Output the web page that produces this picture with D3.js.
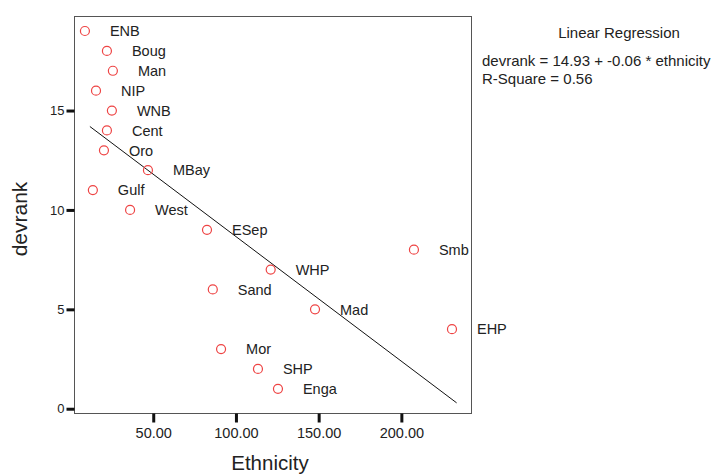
<!DOCTYPE html>
<html>
<head>
<meta charset="utf-8">
<script src="https://cdn.jsdelivr.net/npm/d3@7"></script>
<style>
    body { margin: 0; background: #ffffff; }
    text { font-family: "Liberation Sans", Arial, sans-serif; fill: #222222; }
</style>
</head>
<body>
<script>
// data
var regions = ["ENB", "Boug", "Man", "NIP", "WNB", "Cent", "Oro", "MBay", "Gulf", "West",
               "ESep", "Smb", "WHP", "Sand", "Mad", "EHP", "Mor", "SHP", "Enga"];
var ethnicity = [8.7, 22, 25.6, 15.4, 25, 22, 20.2, 46.8, 13.5, 36,
                 82.5, 207.6, 121, 86, 147.8, 230.6, 91, 113.3, 125.4];
var devrank = [19, 18, 17, 16, 15, 14, 13, 12, 11, 10,
               9, 8, 7, 6, 5, 4, 3, 2, 1];
var xTicks = [50, 100, 150, 200];
var yTicks = [0, 5, 10, 15];

// regression line
var fitIntercept = 14.93;
var fitSlope = -0.0627;
var fitRange = [11.7, 233.4];
var legendLines = ["devrank = 14.93 + -0.06 * ethnicity", "R-Square = 0.56"];

// canvas and plot frame
var canvasX = 712;
var canvasY = 475;
var plotLeft = 74.5;
var plotRight = 471.5;
var plotTop = 16.5;
var plotBottom = 413.5;

window.onload = function() {

    var svg = d3.select("body")
                .append("svg")
                .attr("width", canvasX)
                .attr("height", canvasY);

    // scales
    var scaleX = d3.scaleLinear()
                   .domain([2.4, 242.4])
                   .range([plotLeft, plotRight]);
    var scaleY = d3.scaleLinear()
                   .domain([-0.24, 19.73])
                   .range([plotBottom, plotTop]);

    // frame
    svg.append("rect")
       .attr("x", plotLeft)
       .attr("y", plotTop)
       .attr("width", plotRight - plotLeft)
       .attr("height", plotBottom - plotTop)
       .attr("fill", "none")
       .attr("stroke", "#555555")
       .attr("stroke-width", 1);

    drawAxes(svg, scaleX, scaleY);
    drawFit(svg, scaleX, scaleY);
    drawPoints(svg, scaleX, scaleY);
    drawLegend(svg);
};

// function to draw both axes
function drawAxes(svg, scaleX, scaleY) {

    var xAxis = d3.axisBottom(scaleX)
                  .tickValues(xTicks)
                  .tickSize(9)
                  .tickPadding(5)
                  .tickFormat(d3.format(".2f"));
    var yAxis = d3.axisLeft(scaleY)
                  .tickValues(yTicks)
                  .tickSize(8)
                  .tickPadding(2);

    var gx = svg.append("g")
                .attr("transform", "translate(0," + plotBottom + ")")
                .call(xAxis);
    var gy = svg.append("g")
                .attr("transform", "translate(" + plotLeft + ",0)")
                .call(yAxis);

    // thick black ticks, no domain line
    [gx, gy].forEach(function(g) {
        g.select(".domain").remove();
        g.selectAll(".tick line")
         .attr("stroke", "#111111")
         .attr("stroke-width", 3);
    });
    gx.selectAll("text").style("font-size", "14.5px").attr("fill", "#222222");
    gy.selectAll("text").style("font-size", "13px").attr("fill", "#222222");

    // axis titles
    svg.append("text")
       .attr("x", 270)
       .attr("y", 470)
       .attr("text-anchor", "middle")
       .style("font-size", "20.5px")
       .text("Ethnicity");

    svg.append("text")
       .attr("transform", "translate(27,219) rotate(-90)")
       .attr("text-anchor", "middle")
       .style("font-size", "21px")
       .text("devrank");
};

// function to draw the regression line
function drawFit(svg, scaleX, scaleY) {
    var fitData = fitRange.map(function(x) {
        return [x, fitIntercept + fitSlope * x];
    });
    svg.append("path")
       .datum(fitData)
       .attr("fill", "none")
       .attr("stroke", "#111111")
       .attr("stroke-width", 1)
       .attr("d", d3.line()
                    .x(function(d) { return scaleX(d[0]); })
                    .y(function(d) { return scaleY(d[1]); }));
};

// function to draw circles and their labels
function drawPoints(svg, scaleX, scaleY) {
    var data = regions.map(function(r, i) {
        return [r, ethnicity[i], devrank[i]];
    });

    svg.selectAll("circle")
       .data(data)
       .enter()
       .append("circle")
       .attr("cx", function(d) { return scaleX(d[1]); })
       .attr("cy", function(d) { return scaleY(d[2]); })
       .attr("r", 4.5)
       .attr("fill", "none")
       .attr("stroke", "#ee4444")
       .attr("stroke-width", 1.2);

    svg.selectAll(".pointLabel")
       .data(data)
       .enter()
       .append("text")
       .attr("class", "pointLabel")
       .attr("x", function(d) { return scaleX(d[1]) + 25; })
       .attr("y", function(d) { return scaleY(d[2]); })
       .attr("dy", "0.36em")
       .style("font-size", "14.5px")
       .text(function(d) { return d[0]; });
};

// function to draw the regression legend
function drawLegend(svg) {
    svg.append("text")
       .attr("x", 619)
       .attr("y", 38)
       .attr("text-anchor", "middle")
       .style("font-size", "15px")
       .text("Linear Regression");

    svg.selectAll(".legendLine")
       .data(legendLines)
       .enter()
       .append("text")
       .attr("class", "legendLine")
       .attr("x", 482)
       .attr("y", function(d, i) { return 66 + i * 18; })
       .style("font-size", "15px")
       .text(function(d) { return d; });
};
</script>
</body>
</html>
